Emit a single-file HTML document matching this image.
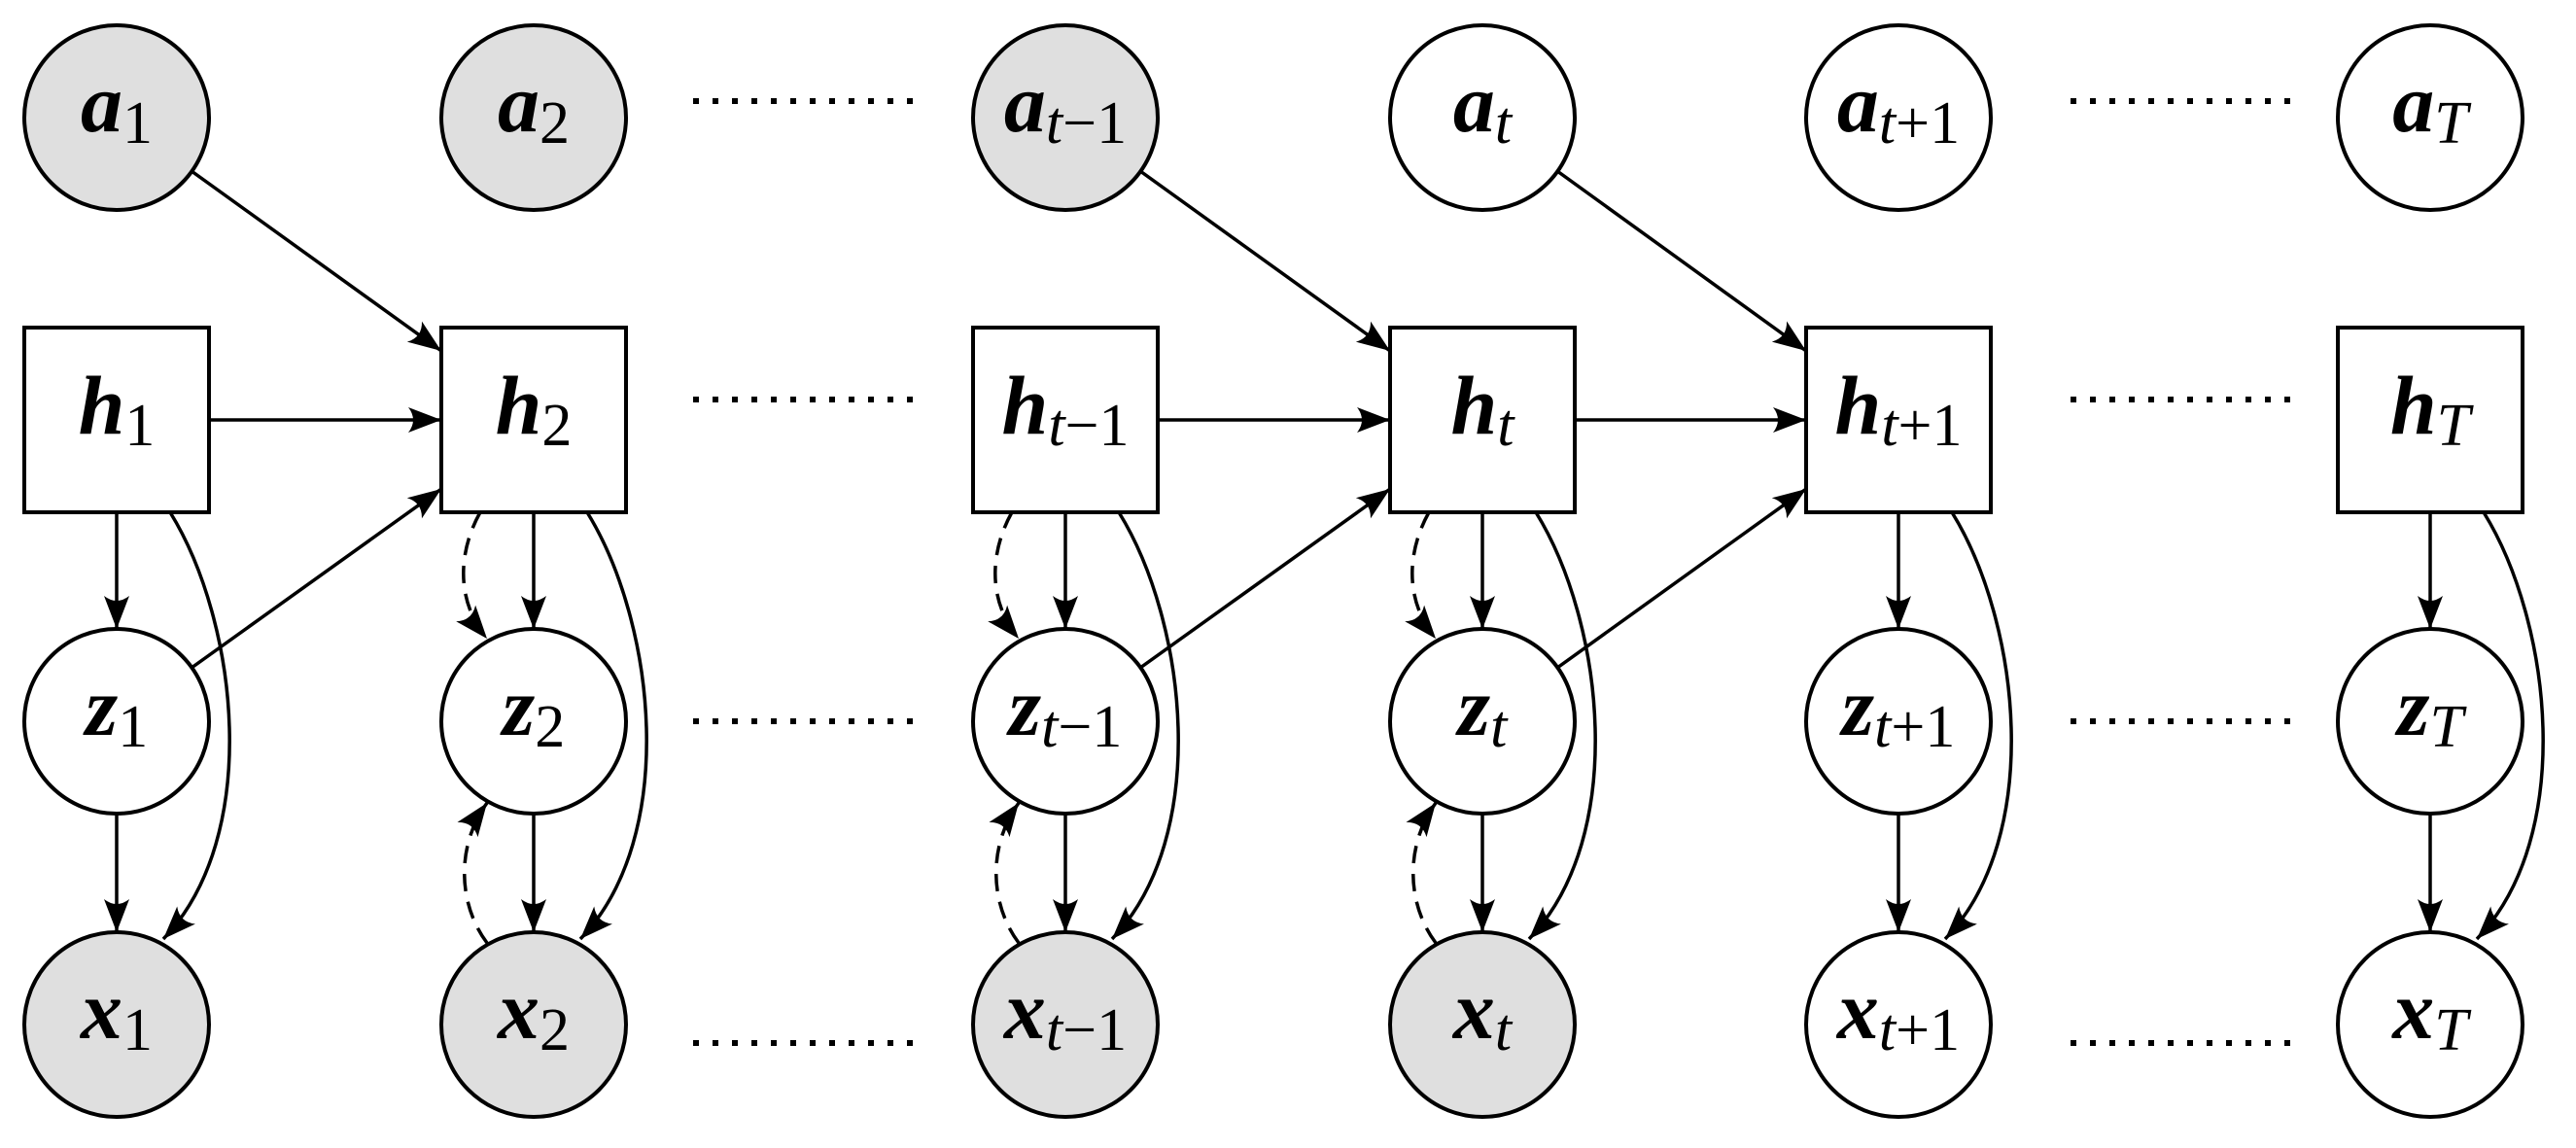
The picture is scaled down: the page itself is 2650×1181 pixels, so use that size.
<!DOCTYPE html>
<html><head><meta charset="utf-8"><style>
html,body{margin:0;padding:0;background:#fff;}
svg{display:block;}
.b{font-weight:bold;font-style:italic;font-size:86px;}
.s{font-size:62px;font-style:normal;font-weight:normal;}
.i{font-style:italic;}
</style></head><body>
<svg width="2650" height="1181" viewBox="0 0 2650 1181" xmlns="http://www.w3.org/2000/svg">
<defs>
<marker id="ah" markerUnits="userSpaceOnUse" viewBox="-36 -16 38 32" markerWidth="38" markerHeight="32" refX="0" refY="0" orient="auto">
<path d="M0,0 L-34,-13 Q-24,0 -34,13 Z" fill="#000" stroke="none"/>
</marker>
</defs>
<g stroke="#000" stroke-width="3.5" fill="none" marker-end="url(#ah)">
<line x1="197" y1="176" x2="454" y2="361"/>
<line x1="215" y1="432" x2="454" y2="432"/>
<line x1="197" y1="687" x2="454" y2="503"/>
<line x1="1173" y1="176" x2="1430" y2="361"/>
<line x1="1191" y1="432" x2="1430" y2="432"/>
<line x1="1173" y1="687" x2="1430" y2="503"/>
<line x1="1602" y1="176" x2="1858" y2="361"/>
<line x1="1620" y1="432" x2="1858" y2="432"/>
<line x1="1602" y1="687" x2="1858" y2="503"/>
<line x1="120" y1="527" x2="120" y2="647"/><line x1="120" y1="837" x2="120" y2="959"/>
<path d="M175,527 C245,640 270,860 168,966"/>
<line x1="549" y1="527" x2="549" y2="647"/><line x1="549" y1="837" x2="549" y2="959"/>
<path d="M604,527 C674,640 699,860 597,966"/>
<line x1="1096" y1="527" x2="1096" y2="647"/><line x1="1096" y1="837" x2="1096" y2="959"/>
<path d="M1151,527 C1221,640 1246,860 1144,966"/>
<line x1="1525" y1="527" x2="1525" y2="647"/><line x1="1525" y1="837" x2="1525" y2="959"/>
<path d="M1580,527 C1650,640 1675,860 1573,966"/>
<line x1="1953" y1="527" x2="1953" y2="647"/><line x1="1953" y1="837" x2="1953" y2="959"/>
<path d="M2008,527 C2078,640 2103,860 2001,966"/>
<line x1="2500" y1="527" x2="2500" y2="647"/><line x1="2500" y1="837" x2="2500" y2="959"/>
<path d="M2555,527 C2625,640 2650,860 2548,966"/>
</g>
<g stroke="#000" stroke-width="3.5" fill="none" stroke-dasharray="18 11" marker-end="url(#ah)">
<path d="M494,527 C470,570 470,620 501,657"/>
<path d="M501,970 C471,930 469,870 501,826"/>
<path d="M1041,527 C1017,570 1017,620 1048,657"/>
<path d="M1048,970 C1018,930 1016,870 1048,826"/>
<path d="M1470,527 C1446,570 1446,620 1477,657"/>
<path d="M1477,970 C1447,930 1445,870 1477,826"/>
</g>
<g stroke="#000" stroke-width="4">
<circle cx="120" cy="121" r="95" fill="#dfdfdf"/>
<circle cx="549" cy="121" r="95" fill="#dfdfdf"/>
<circle cx="1096" cy="121" r="95" fill="#dfdfdf"/>
<circle cx="1525" cy="121" r="95" fill="#fff"/>
<circle cx="1953" cy="121" r="95" fill="#fff"/>
<circle cx="2500" cy="121" r="95" fill="#fff"/>
<rect x="25" y="337" width="190" height="190" fill="#fff"/>
<rect x="454" y="337" width="190" height="190" fill="#fff"/>
<rect x="1001" y="337" width="190" height="190" fill="#fff"/>
<rect x="1430" y="337" width="190" height="190" fill="#fff"/>
<rect x="1858" y="337" width="190" height="190" fill="#fff"/>
<rect x="2405" y="337" width="190" height="190" fill="#fff"/>
<circle cx="120" cy="742" r="95" fill="#fff"/>
<circle cx="549" cy="742" r="95" fill="#fff"/>
<circle cx="1096" cy="742" r="95" fill="#fff"/>
<circle cx="1525" cy="742" r="95" fill="#fff"/>
<circle cx="1953" cy="742" r="95" fill="#fff"/>
<circle cx="2500" cy="742" r="95" fill="#fff"/>
<circle cx="120" cy="1054" r="95" fill="#dfdfdf"/>
<circle cx="549" cy="1054" r="95" fill="#dfdfdf"/>
<circle cx="1096" cy="1054" r="95" fill="#dfdfdf"/>
<circle cx="1525" cy="1054" r="95" fill="#dfdfdf"/>
<circle cx="1953" cy="1054" r="95" fill="#fff"/>
<circle cx="2500" cy="1054" r="95" fill="#fff"/>
</g>
<g text-anchor="middle" fill="#000" style="font-family:'Liberation Serif',serif">
<text x="120" y="135" style="font-family:'Liberation Serif',serif"><tspan class="b">a</tspan><tspan class="s" dy="12">1</tspan></text>
<text x="549" y="135" style="font-family:'Liberation Serif',serif"><tspan class="b">a</tspan><tspan class="s" dy="12">2</tspan></text>
<text x="1096" y="135" style="font-family:'Liberation Serif',serif"><tspan class="b">a</tspan><tspan class="s i" dy="12">t</tspan><tspan class="s">−1</tspan></text>
<text x="1525" y="135" style="font-family:'Liberation Serif',serif"><tspan class="b">a</tspan><tspan class="s i" dy="12">t</tspan></text>
<text x="1953" y="135" style="font-family:'Liberation Serif',serif"><tspan class="b">a</tspan><tspan class="s i" dy="12">t</tspan><tspan class="s">+1</tspan></text>
<text x="2500" y="135" style="font-family:'Liberation Serif',serif"><tspan class="b">a</tspan><tspan class="s i" dy="12">T</tspan></text>

<text x="120" y="446" style="font-family:'Liberation Serif',serif"><tspan class="b">h</tspan><tspan class="s" dy="12">1</tspan></text>
<text x="549" y="446" style="font-family:'Liberation Serif',serif"><tspan class="b">h</tspan><tspan class="s" dy="12">2</tspan></text>
<text x="1096" y="446" style="font-family:'Liberation Serif',serif"><tspan class="b">h</tspan><tspan class="s i" dy="12">t</tspan><tspan class="s">−1</tspan></text>
<text x="1525" y="446" style="font-family:'Liberation Serif',serif"><tspan class="b">h</tspan><tspan class="s i" dy="12">t</tspan></text>
<text x="1953" y="446" style="font-family:'Liberation Serif',serif"><tspan class="b">h</tspan><tspan class="s i" dy="12">t</tspan><tspan class="s">+1</tspan></text>
<text x="2500" y="446" style="font-family:'Liberation Serif',serif"><tspan class="b">h</tspan><tspan class="s i" dy="12">T</tspan></text>

<text x="120" y="756" style="font-family:'Liberation Serif',serif"><tspan class="b">z</tspan><tspan class="s" dy="12">1</tspan></text>
<text x="549" y="756" style="font-family:'Liberation Serif',serif"><tspan class="b">z</tspan><tspan class="s" dy="12">2</tspan></text>
<text x="1096" y="756" style="font-family:'Liberation Serif',serif"><tspan class="b">z</tspan><tspan class="s i" dy="12">t</tspan><tspan class="s">−1</tspan></text>
<text x="1525" y="756" style="font-family:'Liberation Serif',serif"><tspan class="b">z</tspan><tspan class="s i" dy="12">t</tspan></text>
<text x="1953" y="756" style="font-family:'Liberation Serif',serif"><tspan class="b">z</tspan><tspan class="s i" dy="12">t</tspan><tspan class="s">+1</tspan></text>
<text x="2500" y="756" style="font-family:'Liberation Serif',serif"><tspan class="b">z</tspan><tspan class="s i" dy="12">T</tspan></text>

<text x="120" y="1068" style="font-family:'Liberation Serif',serif"><tspan class="b">x</tspan><tspan class="s" dy="12">1</tspan></text>
<text x="549" y="1068" style="font-family:'Liberation Serif',serif"><tspan class="b">x</tspan><tspan class="s" dy="12">2</tspan></text>
<text x="1096" y="1068" style="font-family:'Liberation Serif',serif"><tspan class="b">x</tspan><tspan class="s i" dy="12">t</tspan><tspan class="s">−1</tspan></text>
<text x="1525" y="1068" style="font-family:'Liberation Serif',serif"><tspan class="b">x</tspan><tspan class="s i" dy="12">t</tspan></text>
<text x="1953" y="1068" style="font-family:'Liberation Serif',serif"><tspan class="b">x</tspan><tspan class="s i" dy="12">t</tspan><tspan class="s">+1</tspan></text>
<text x="2500" y="1068" style="font-family:'Liberation Serif',serif"><tspan class="b">x</tspan><tspan class="s i" dy="12">T</tspan></text>
</g>
<g stroke="#000" stroke-width="6" stroke-dasharray="6 14" fill="none">
<line x1="713" y1="104" x2="940" y2="104"/>
<line x1="2130" y1="104" x2="2357" y2="104"/>
<line x1="713" y1="411" x2="940" y2="411"/>
<line x1="2130" y1="411" x2="2357" y2="411"/>
<line x1="713" y1="742" x2="940" y2="742"/>
<line x1="2130" y1="742" x2="2357" y2="742"/>
<line x1="713" y1="1073" x2="940" y2="1073"/>
<line x1="2130" y1="1073" x2="2357" y2="1073"/>
</g>
</svg>
</body></html>
